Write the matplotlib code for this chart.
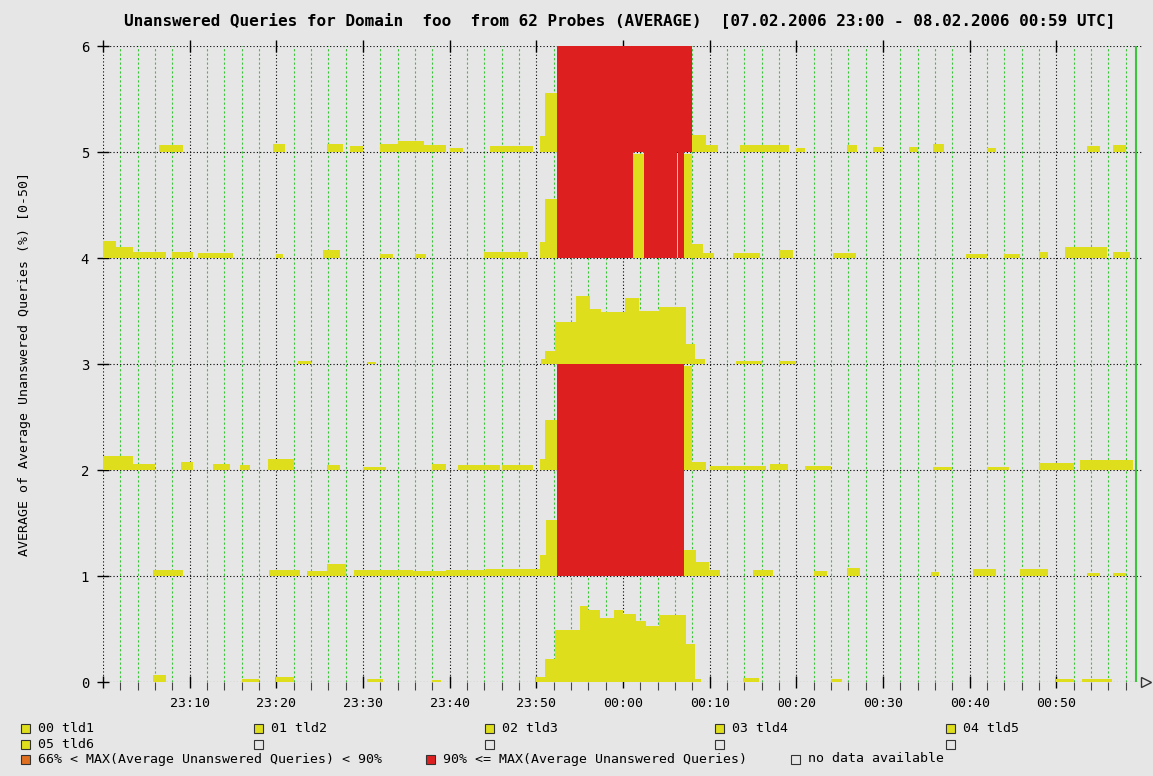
import matplotlib.pyplot as plt
from matplotlib.patches import Rectangle

# time axis: minutes after 07.02.2006 23:00 UTC
tick_min = [10, 20, 30, 40, 50, 60, 70, 80, 90, 100, 110]
tick_lbl = ['23:10', '23:20', '23:30', '23:40', '23:50', '00:00',
            '00:10', '00:20', '00:30', '00:40', '00:50']

# yellow segments per probe band: (start minute, end minute, height in band)
tld1 = [(5.8, 7.3, 0.07), (16, 18, 0.03), (20, 22, 0.05), (30.5, 32.3, 0.03),
        (38, 39, 0.02), (50, 51, 0.05), (51, 52.1, 0.22), (52.1, 55, 0.49),
        (55, 56, 0.72), (56, 57.3, 0.68), (57.3, 59, 0.6), (59, 60, 0.68),
        (60, 61.5, 0.64), (61.5, 62.7, 0.58), (62.7, 64.2, 0.53),
        (64.2, 67.3, 0.63), (67.3, 68.3, 0.36), (68.3, 69, 0.03),
        (73.8, 75.7, 0.04), (84, 85.3, 0.03), (110, 112, 0.03), (113, 116.4, 0.03)]
tld2 = [(5.8, 9.2, 0.06), (19.2, 22.7, 0.06), (23.5, 25.8, 0.05), (25.8, 28, 0.11),
        (29, 35.8, 0.06), (35.8, 39.6, 0.05), (39.6, 44.2, 0.06), (44.2, 50.4, 0.07),
        (50.4, 51.1, 0.2), (51.1, 52.4, 0.53), (67.0, 68.4, 0.25), (68.4, 69.9, 0.13),
        (69.9, 71.2, 0.06), (75, 77.3, 0.06), (82, 83.5, 0.05), (85.8, 87.3, 0.08),
        (95.5, 96.5, 0.04), (100.4, 103, 0.07), (105.8, 109, 0.07),
        (113.5, 115, 0.03), (116.5, 118, 0.03)]
tld3 = [(0, 3.5, 0.13), (3.5, 6, 0.06), (9, 10.4, 0.08), (12.7, 14.6, 0.06),
        (15.8, 17, 0.05), (19, 22, 0.1), (25.8, 27.3, 0.05), (30, 32.7, 0.03),
        (38, 39.6, 0.06), (41, 45.8, 0.05), (46, 49.6, 0.05), (50.4, 51, 0.1),
        (51, 52.4, 0.47), (67.0, 68.0, 0.98), (68.0, 69.6, 0.08), (70, 76.5, 0.04),
        (77, 79, 0.06), (81, 84, 0.04), (95.8, 98, 0.03), (102, 104.5, 0.03),
        (108, 112, 0.07), (112.7, 118.8, 0.09)]
tld4 = [(22.5, 24, 0.03), (30.5, 31.5, 0.02), (50.5, 51, 0.05), (51, 52.1, 0.12),
        (52.1, 54.6, 0.4), (54.6, 56.2, 0.64), (56.2, 57.5, 0.52), (57.5, 60.2, 0.49),
        (60.2, 61.9, 0.62), (61.9, 64.2, 0.5), (64.2, 67.3, 0.54), (67.3, 68.3, 0.19),
        (68.3, 69.5, 0.05), (73, 76, 0.03), (78, 80, 0.03)]
tld5 = [(0, 1.5, 0.16), (1.5, 3.5, 0.1), (3.5, 7.3, 0.06), (8, 10.4, 0.06),
        (11, 15, 0.05), (20, 20.8, 0.04), (25.4, 27.3, 0.08), (32, 33.5, 0.04),
        (36, 37.3, 0.04), (44, 49, 0.06), (50.4, 51, 0.15), (51, 52.4, 0.56),
        (61.1, 62.4, 0.98), (66.2, 66.4, 0.98), (67.0, 68.0, 0.98), (68.0, 69.2, 0.13),
        (69.2, 70.5, 0.05), (72.7, 75.8, 0.05), (78, 79.6, 0.08), (84.2, 86.9, 0.05),
        (99.6, 102, 0.04), (104, 105.8, 0.04), (108, 109, 0.06), (111, 115.8, 0.1),
        (116.5, 118.5, 0.06)]
tld6 = [(6.5, 9.2, 0.07), (19.6, 21, 0.08), (25.8, 27.7, 0.08), (28.5, 30, 0.06),
        (32, 34, 0.08), (34, 37, 0.1), (37, 39.6, 0.07), (40, 41.5, 0.04),
        (44.6, 49.6, 0.06), (50.4, 51, 0.15), (51, 52.4, 0.56), (68.0, 69.6, 0.16),
        (69.6, 71, 0.07), (73.5, 79.2, 0.065), (80, 81, 0.04), (85.8, 87, 0.07),
        (88.8, 90, 0.05), (93, 94, 0.05), (95.8, 97, 0.08), (102, 103, 0.04),
        (113.5, 115, 0.06), (116.5, 118, 0.07)]

# red spans (>= 90%), full band height
tld1_red = []
tld2_red = [(52.4, 67.0)]
tld3_red = [(52.4, 67.0)]
tld4_red = []
tld5_red = [(52.4, 61.1), (62.4, 66.2), (66.4, 67.0)]
tld6_red = [(52.4, 68.0)]

names = ['00 tld1', '01 tld2', '02 tld3', '03 tld4', '04 tld5', '05 tld6']
bands = [tld1, tld2, tld3, tld4, tld5, tld6]
reds = [tld1_red, tld2_red, tld3_red, tld4_red, tld5_red, tld6_red]

BG = '#e6e6e6'
YEL = '#dede1c'
RED = '#de1f1f'
GREEN = '#3cc43c'
MONO = 'DejaVu Sans Mono'

fig = plt.figure(figsize=(11.53, 7.76), dpi=100, facecolor=BG)
ax = fig.add_axes([103 / 1153, 1 - 682 / 776, (1143 - 103) / 1153, (682 - 46) / 776])
ax.set_facecolor(BG)

for k, segs in enumerate(bands):
    starts = [s[0] for s in segs]
    widths = [s[1] - s[0] for s in segs]
    vals = [s[2] for s in segs]
    ax.bar(starts, vals, width=widths, bottom=k, align='edge', color=YEL,
           linewidth=0, zorder=2)
    for s, e in reds[k]:
        ax.bar(s, 1, width=e - s, bottom=k, align='edge', color=RED,
               linewidth=0, zorder=3)

ax.set_xlim(0, 120)
ax.set_ylim(0, 6)
ax.set_xticks([0] + tick_min)
ax.set_xticklabels([''] + tick_lbl, fontfamily=MONO, fontsize=9.5)
ax.set_xticks(range(2, 120, 2), minor=True)
ax.set_yticks(range(7))
ax.set_yticklabels([str(i) for i in range(7)], fontfamily=MONO, fontsize=10)

ax.grid(which='major', color='black', linestyle=(0, (1, 2)), linewidth=0.8, zorder=1)
ax.grid(which='minor', axis='x', color=GREEN, linestyle=(0, (2, 2)), linewidth=0.8, zorder=1)
ax.set_axisbelow(True)
for sp in ax.spines.values():
    sp.set_visible(False)

ax.tick_params(which='major', direction='inout', length=8, width=1, color='black',
               top=True, labeltop=False, pad=7)
ax.tick_params(axis='y', which='major', pad=6)
ax.tick_params(which='minor', direction='out', length=6, width=0.8, color='#444444')

# right edge marker line and axis arrow
ax.axvline(119.2, color=GREEN, linewidth=1.5, zorder=4)
ax.plot([120.3], [0], marker='>', markersize=7, markerfacecolor='none',
        markeredgecolor='#333333', clip_on=False)

ax.set_ylabel('AVERAGE of Average Unanswered Queries (%) [0-50]',
              fontfamily=MONO, fontsize=9.5, labelpad=36)

fig.text(620 / 1153, 1 - 20 / 776,
         'Unanswered Queries for Domain  foo  from 62 Probes (AVERAGE)  '
         '[07.02.2006 23:00 - 08.02.2006 00:59 UTC]',
         ha='center', va='center', fontfamily=MONO, fontsize=11.5, fontweight='bold')

# legend
W, H = 1153, 776
col_x = [21, 254, 485, 715, 946]
row_y = [728, 744, 759]
sq = 9


def legend_item(x, y, face, label):
    fig.add_artist(Rectangle((x / W, 1 - (y + sq / 2) / H), sq / W, sq / H,
                             transform=fig.transFigure, facecolor=face,
                             edgecolor='#333333', linewidth=0.8))
    if label:
        fig.text((x + 17) / W, 1 - y / H, label, ha='left', va='center',
                 fontfamily=MONO, fontsize=9.5)


for i, nm in enumerate(names[:5]):
    legend_item(col_x[i], row_y[0], YEL, nm)
legend_item(col_x[0], row_y[1], YEL, names[5])
for x in col_x[1:]:
    legend_item(x, row_y[1], 'none', '')
legend_item(col_x[0], row_y[2], '#e07020', '66% < MAX(Average Unanswered Queries) < 90%')
legend_item(426, row_y[2], RED, '90% <= MAX(Average Unanswered Queries)')
legend_item(791, row_y[2], 'none', 'no data available')

fig.savefig('out.png', dpi=100, facecolor=BG)
